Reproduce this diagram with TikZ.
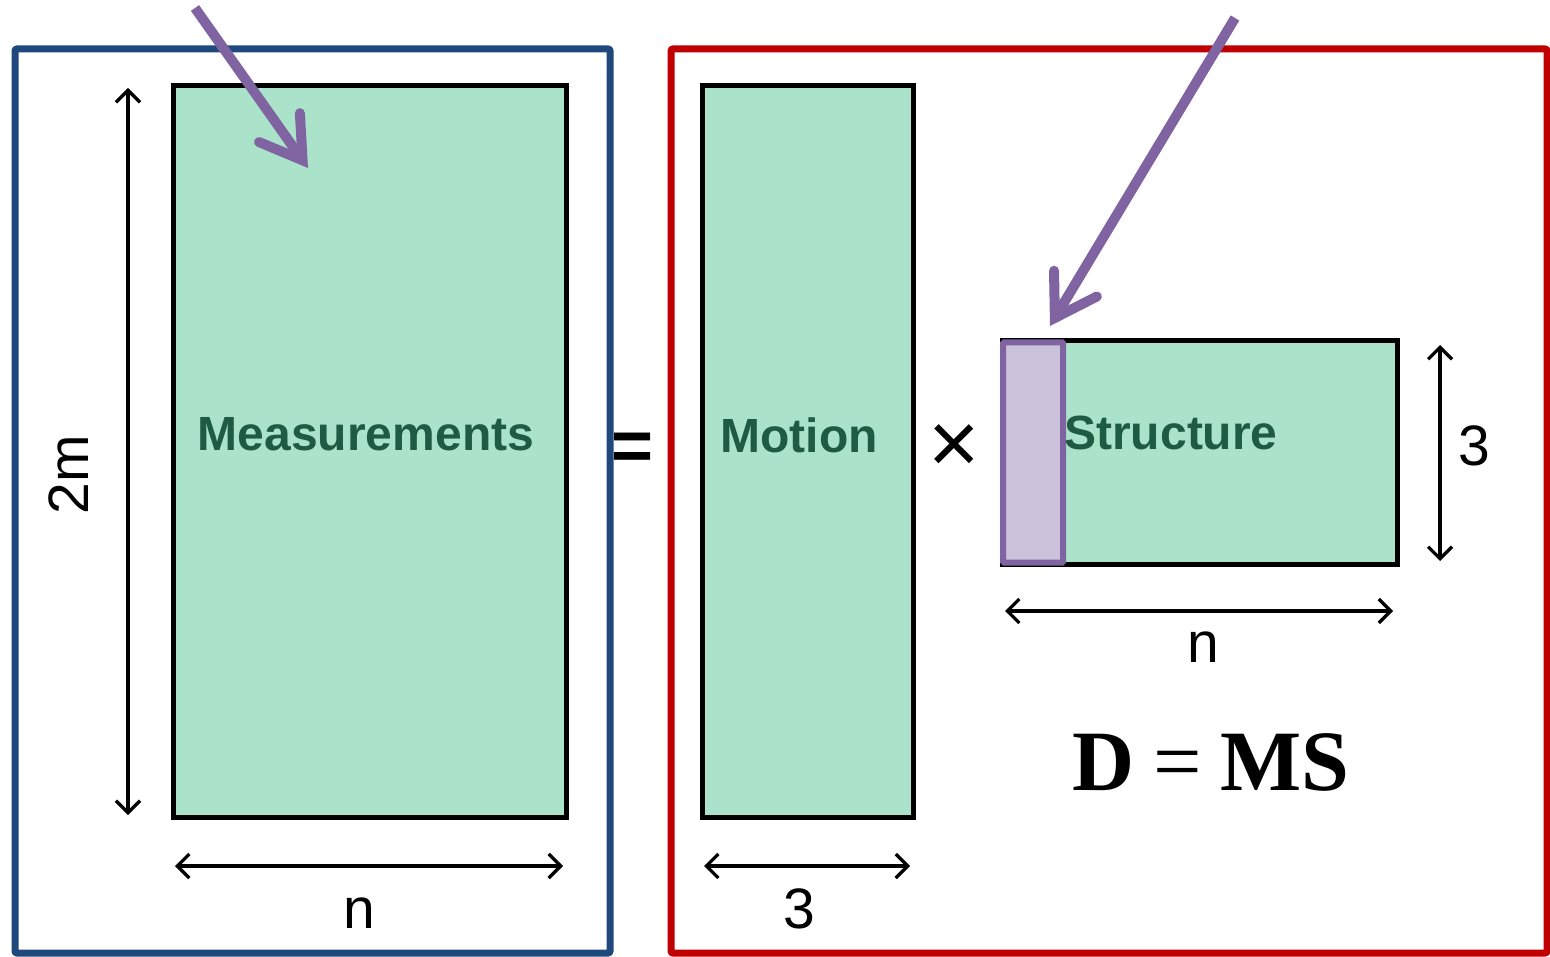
\documentclass[tikz,border=0pt]{standalone}
\usepackage{fontspec}
\setmainfont{Liberation Sans}
\newfontfamily\timesfont{Liberation Serif}
\usetikzlibrary{arrows.meta}
\definecolor{matfill}{HTML}{ABE2CA}
\definecolor{matgreen}{HTML}{1F5A42}
\definecolor{frameblue}{HTML}{1F497D}
\definecolor{framered}{HTML}{C00000}
\definecolor{hlpurple}{HTML}{8064A2}
\definecolor{hlfill}{HTML}{CBC1DA}
\tikzset{
  frame/.style={draw, line width=7pt, rounded corners=2pt, inner sep=0pt},
  matrect/.style={draw=black, fill=matfill, line width=5pt, inner sep=0pt},
  hlrect/.style={draw=hlpurple, fill=hlfill, line width=6pt, inner sep=0pt, rounded corners=1pt},
  mattext/.style={font=\fontsize{48}{52}\selectfont\bfseries, text=matgreen, inner sep=0pt, anchor=base},
  dimtext/.style={font=\fontsize{57}{60}\selectfont, inner sep=0pt, anchor=base},
  dimarrow/.style={line width=3.2pt, {Straight Barb[length=12pt,width=24pt]}-{Straight Barb[length=12pt,width=24pt]}},
  pointer/.style={draw=hlpurple, line width=10pt, -{Straight Barb[length=40pt,width=50pt,line cap=round]}}
}
\begin{document}
\begin{tikzpicture}[x=1pt,y=-1pt]
\useasboundingbox (0,0) rectangle (1550,957);
% frames
\node[frame, draw=frameblue, minimum width=595pt, minimum height=904pt] (lframe) at (312.5,501) {};
\node[frame, draw=framered, minimum width=876pt, minimum height=904pt] (rframe) at (1109,501) {};
% matrices
\node[matrect, minimum width=393pt, minimum height=731pt] (meas) at (369.5,451.5) {};
\node[matrect, minimum width=211pt, minimum height=731pt] (motion) at (807.5,451.5) {};
\node[matrect, minimum width=395pt, minimum height=223pt] (struct) at (1199.5,452.5) {};
\node[hlrect, minimum width=60pt, minimum height=220pt] (hl) at (1033,452.5) {};
% matrix labels
\node[mattext] (meastxt) at (366,450) {Measurements};
\node[mattext] (motiontxt) at (799,452) {Motion};
\node[mattext] (structtxt) at (1171,449) {Structure};
% operators
\node[font=\fontsize{72}{72}\selectfont\bfseries, inner sep=0pt] (eq) at (633,452) {=};
\node[font=\fontsize{88}{88}\selectfont, inner sep=0pt] (times) at (954,449) {×};
\node[font=\fontsize{86}{86}\selectfont\timesfont\bfseries, inner sep=0pt, anchor=base] (dms) at (1211,790) {D\hspace{0.22em}{\mdseries =}\hspace{0.22em}MS};
% dimension arrows
\coordinate (a1s) at (128,88);   \coordinate (a1e) at (128,815);
\coordinate (a2s) at (175,866);  \coordinate (a2e) at (563,866);
\coordinate (a3s) at (704,866);  \coordinate (a3e) at (910,866);
\coordinate (a4s) at (1440,345); \coordinate (a4e) at (1440,561);
\coordinate (a5s) at (1005,611); \coordinate (a5e) at (1393,611);
\draw[dimarrow] (a1s) -- (a1e);
\draw[dimarrow] (a2s) -- (a2e);
\draw[dimarrow] (a3s) -- (a3e);
\draw[dimarrow] (a4s) -- (a4e);
\draw[dimarrow] (a5s) -- (a5e);
% dimension labels
\node[dimtext, rotate=90] (l2m) at (88,475) {2m};
\node[dimtext] (ln1) at (359,928) {n};
\node[dimtext] (l31) at (799,928) {3};
\node[dimtext] (l32) at (1474,465) {3};
\node[dimtext] (ln2) at (1203,662) {n};
% pointer arrows
\coordinate (p1s) at (195,8);   \coordinate (p1e) at (308,168);
\coordinate (p2s) at (1235,18); \coordinate (p2e) at (1050,326);
\draw[pointer] (p1s) -- (p1e);
\draw[pointer] (p2s) -- (p2e);
\end{tikzpicture}
\end{document}
